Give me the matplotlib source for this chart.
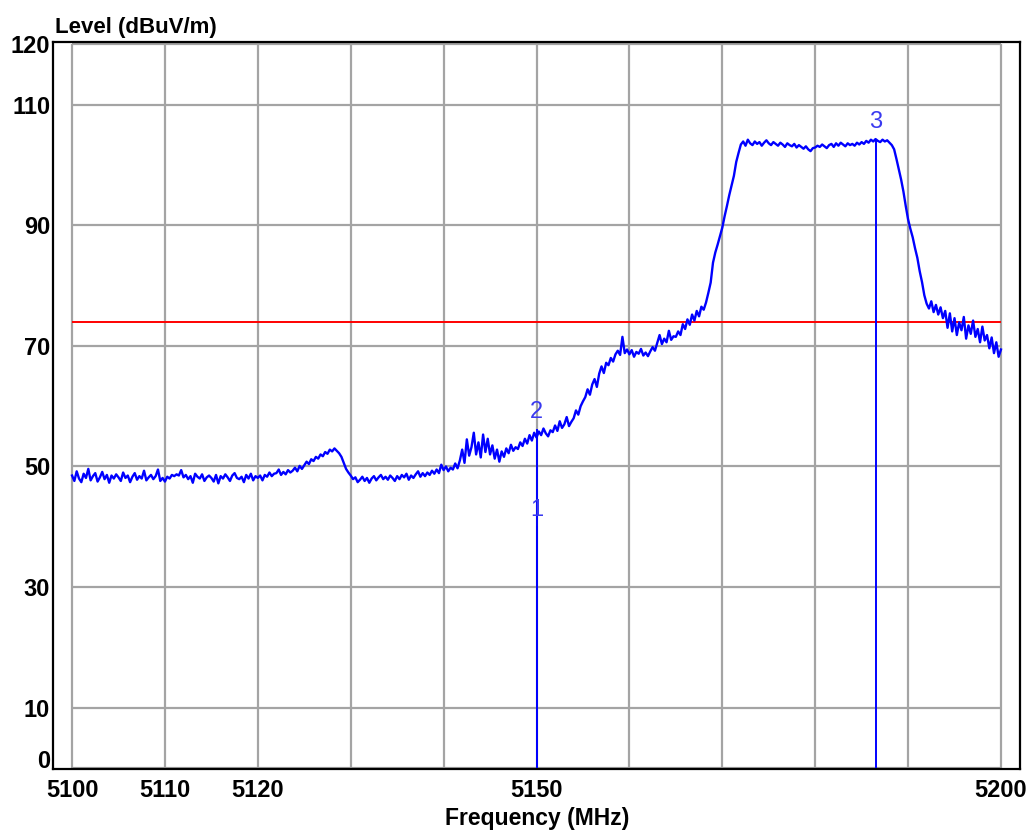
import numpy as np
import matplotlib
matplotlib.use("Agg")
import matplotlib.pyplot as plt
from matplotlib.transforms import ScaledTranslation

plt.rcParams['font.family'] = ['Liberation Sans', 'DejaVu Sans']

# sweep 5100..5200 MHz, 0.25 MHz per point, level in dBuV/m (one row = 5 MHz)
f_start = 5100.0
f_stop = 5200.0
level = [
    48.5, 47.6, 49.2, 48.0, 47.4, 48.8, 48.1, 49.6, 47.7, 48.4, 48.9, 47.5, 48.2, 49.1, 47.9, 48.6, 47.3, 48.5, 48.0, 48.7,
    48.2, 47.6, 49.0, 48.1, 48.5, 47.4, 48.3, 48.9, 47.8, 48.4, 48.0, 49.3, 47.7, 48.2, 48.6, 47.9, 48.4, 49.5, 47.6, 48.1,
    47.5, 48.3, 48.0, 48.6, 48.4, 48.7, 48.5, 49.4, 48.2, 48.6, 47.9, 48.4, 47.3, 48.8, 48.3, 48.0, 48.7, 47.6, 48.2, 48.5,
    48.1, 47.5, 48.6, 47.2, 48.4, 48.0, 48.7, 48.2, 47.6, 48.5, 48.9, 48.1, 47.9, 48.3, 47.4, 48.6, 48.0, 48.8, 47.7, 48.4,
    48.1, 48.5, 47.7, 48.6, 48.3, 49.0, 48.4, 48.8, 48.9, 49.5, 48.6, 49.1, 48.7, 49.4, 49.0, 49.3, 49.8, 49.2, 50.1, 49.6,
    50.2, 50.8, 50.4, 51.2, 50.9, 51.6, 51.3, 52.0, 51.7, 52.4, 52.1, 52.8, 52.5, 53.0, 52.6, 52.2, 51.6, 50.6, 49.6, 49.0,
    48.5, 47.9, 48.2, 47.4, 47.8, 48.3, 47.6, 48.1, 47.3, 48.0, 48.4, 47.7, 48.2, 48.6, 47.9, 48.3, 47.8, 48.5, 48.1, 47.6,
    48.4, 47.9, 48.6, 48.2, 48.8, 47.8, 48.5, 48.1, 48.7, 49.2, 48.3, 48.9, 48.4, 49.0, 48.6, 49.3, 48.8, 49.5, 48.9, 50.3,
    49.4, 50.0, 49.2, 49.8, 49.5, 50.5, 49.7, 51.0, 52.8, 50.6, 54.5, 51.8, 53.2, 55.6, 52.0, 54.0, 51.5, 55.3, 52.4, 54.6,
    52.0, 53.5, 51.3, 52.8, 50.8, 52.5, 51.6, 53.0, 52.2, 53.6, 52.6, 53.2, 52.9, 54.0, 53.4, 54.6, 53.8, 55.2, 54.3, 55.6,
    54.8, 55.8, 55.2, 56.3, 55.5, 55.0, 56.0, 55.7, 56.8, 55.9, 57.5, 56.4, 57.0, 58.2, 56.7, 57.4, 58.0, 59.3, 58.6, 60.0,
    60.8, 61.5, 62.8, 61.9, 63.6, 64.5, 63.2, 65.4, 66.6, 65.5, 67.2, 66.8, 68.0, 67.4, 68.6, 69.2, 68.5, 71.5, 68.8, 69.4,
    68.6, 69.3, 68.2, 69.0, 68.7, 69.5, 68.4, 68.9, 68.3, 69.1, 69.8, 69.2, 70.5, 71.8, 70.3, 71.2, 70.6, 72.5, 71.0, 71.6,
    71.5, 72.4, 71.8, 73.6, 72.8, 74.4, 73.5, 75.2, 74.2, 75.8, 74.9, 76.5, 76.0, 77.2, 78.8, 80.5, 83.8, 85.5, 86.8, 88.2,
    89.6, 91.5, 93.2, 95.0, 96.6, 98.2, 100.5, 102.0, 103.4, 103.9, 103.2, 104.2, 103.6, 103.3, 103.9, 103.5, 103.8, 103.2, 103.7, 104.1,
    103.6, 103.3, 103.8, 103.5, 103.2, 103.7, 103.4, 103.0, 103.6, 103.3, 103.1, 103.5, 102.9, 103.3, 103.0, 102.7, 103.1, 102.6, 102.3, 102.8,
    102.9, 103.2, 103.0, 103.4, 103.1, 102.8, 103.3, 103.5, 103.0, 103.6, 103.2, 103.7, 103.4, 103.1, 103.6, 103.3, 103.5, 103.2, 103.7, 103.4,
    103.8, 103.5, 104.0, 103.7, 104.2, 103.9, 104.3, 104.0, 103.8, 104.2, 103.9, 104.1, 103.7, 103.3, 102.6, 101.0, 99.3, 97.6, 95.6, 93.2,
    91.0, 89.4, 88.0, 86.2, 84.6, 82.4, 80.6, 78.4, 77.0, 76.2, 77.4, 75.6, 76.8, 75.2, 76.4, 74.6, 75.8, 73.0, 75.4, 72.4,
    74.6, 71.8, 73.9, 72.6, 74.8, 71.2, 73.4, 72.0, 74.2, 71.5, 72.8, 70.6, 73.2, 70.9, 71.8, 69.6, 71.4, 68.8, 70.6, 68.2,
    69.4,
]

limit_level = 74.0

marker_names = ['1', '2', '3']
marker_freq = [5150.0, 5150.0, 5186.5]
marker_level = [40.1, 56.2, 104.3]

x_ticks = [5100, 5110, 5120, 5150, 5200]
y_ticks = [0, 10, 30, 50, 70, 90, 110, 120]
x_grid = [5100, 5110, 5120, 5130, 5140, 5150, 5160, 5170, 5180, 5190, 5200]
y_grid = [0, 10, 30, 50, 70, 90, 110, 120]

freq = np.linspace(f_start, f_stop, len(level))

fig = plt.figure(figsize=(10.34, 8.30), dpi=100)
ax = fig.add_axes([53 / 1034, 61 / 830, 967 / 1034, 727 / 830])
ax.set_xlim(5097.95, 5202.05)
ax.set_ylim(-0.17, 120.4)

grey = '#a4a4a4'
ax.vlines(x_grid, 0, 120, colors=grey, linewidth=1.6, zorder=1)
ax.hlines(y_grid, f_start, f_stop, colors=grey, linewidth=1.6, zorder=1)

ax.plot(freq, level, color='#0000ff', linewidth=1.7, zorder=3)
ax.hlines(limit_level, f_start, f_stop, colors='#ff0000', linewidth=1.4, zorder=2)

ax.vlines(marker_freq, 0, marker_level, colors='#0000ff', linewidth=1.4, zorder=4)
for name, mf, ml in zip(marker_names, marker_freq, marker_level):
    ax.annotate(name, (mf, ml), xytext=(0, 12), textcoords='offset points',
                ha='center', va='center', fontsize=17, color='#3a3af0', zorder=5)

ax.set_xticks(x_ticks)
ax.set_yticks(y_ticks)
ax.tick_params(axis='both', length=0, labelsize=17)
ax.tick_params(axis='x', pad=7)
ax.tick_params(axis='y', pad=2)
for lab in ax.get_xticklabels() + ax.get_yticklabels():
    lab.set_fontweight('bold')

# the "0" label sits a little higher than its gridline in the original
zero_lab = ax.get_yticklabels()[0]
zero_lab.set_transform(zero_lab.get_transform() + ScaledTranslation(0, 0.09, fig.dpi_scale_trans))

for sp in ax.spines.values():
    sp.set_linewidth(1.6)
    sp.set_color('black')

fig.text(55 / 1034, 1 - 27 / 830, 'Level (dBuV/m)', fontsize=16, fontweight='bold',
         ha='left', va='center')
fig.text(537 / 1034, 1 - 818 / 830, 'Frequency (MHz)', fontsize=16.5, fontweight='bold',
         ha='center', va='center')

fig.savefig('out.png', dpi=100)
